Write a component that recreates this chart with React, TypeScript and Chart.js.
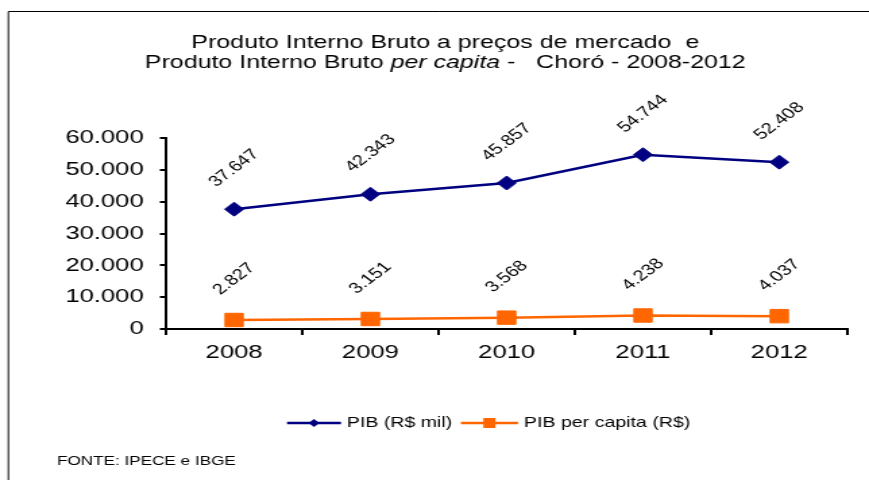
import React, { useEffect, useRef } from 'react';
import { Chart, registerables } from 'chart.js';

Chart.register(...registerables);

// ---- data ----
const years = ['2008', '2009', '2010', '2011', '2012'];
const pib = [37647, 42343, 45857, 54744, 52408];
const pibPerCapita = [2827, 3151, 3568, 4238, 4037];
const seriesNames = ['PIB (R$ mil)', 'PIB per capita (R$)'];
const yMin = 0;
const yMax = 60000;
const yStep = 10000;
const titleLine1 = 'Produto Interno Bruto a preços de mercado  e';
const titleLine2: [string, boolean][] = [
  ['Produto Interno Bruto ', false],
  ['per capita', true],
  [' -   Choró - 2008-2012', false],
];
const sourceText = 'FONTE: IPECE e IBGE';

// ---- layout (logical canvas is stretched horizontally to 869px) ----
const W = 644;
const H = 480;
const FONT = "'Liberation Sans', Arial, sans-serif";
const NAVY = '#000080';
const ORANGE = '#FF6600';

const fmt = (v: number) =>
  String(Math.round(v)).replace(/\B(?=(\d{3})+(?!\d))/g, '.');

const decorPlugin = {
  id: 'decor',
  afterDatasetsDraw(chart: any) {
    const ctx = chart.ctx as CanvasRenderingContext2D;
    ctx.save();
    ctx.fillStyle = '#000';
    ctx.font = `15px ${FONT}`;
    ctx.textAlign = 'center';
    ctx.textBaseline = 'middle';
    chart.data.datasets.forEach((ds: any, i: number) => {
      const meta = chart.getDatasetMeta(i);
      meta.data.forEach((el: any, j: number) => {
        ctx.save();
        ctx.translate(el.x, el.y - 41);
        ctx.rotate(-Math.PI / 4);
        ctx.fillText(fmt(ds.data[j]), 0, 0);
        ctx.restore();
      });
    });
    ctx.restore();
  },
  afterDraw(chart: any) {
    const ctx = chart.ctx as CanvasRenderingContext2D;
    ctx.save();
    // frame (top + left)
    ctx.strokeStyle = '#000';
    ctx.lineWidth = 1;
    ctx.beginPath();
    ctx.moveTo(6.2, H);
    ctx.lineTo(6.2, 11.5);
    ctx.lineTo(W, 11.5);
    ctx.stroke();

    // title
    const tSize = 18.5;
    ctx.fillStyle = '#000';
    ctx.textBaseline = 'alphabetic';
    ctx.textAlign = 'center';
    ctx.font = `${tSize}px ${FONT}`;
    const cx = 330;
    ctx.fillText(titleLine1, cx, 48);
    ctx.textAlign = 'left';
    const widths = titleLine2.map(([t, it]) => {
      ctx.font = `${it ? 'italic ' : ''}${tSize}px ${FONT}`;
      return ctx.measureText(t).width;
    });
    let x = cx - widths.reduce((a, b) => a + b, 0) / 2;
    titleLine2.forEach(([t, it], i) => {
      ctx.font = `${it ? 'italic ' : ''}${tSize}px ${FONT}`;
      ctx.fillText(t, x, 67.5);
      x += widths[i];
    });

    // legend
    const ly = 423;
    ctx.lineWidth = 2.5;
    ctx.strokeStyle = NAVY;
    ctx.fillStyle = NAVY;
    ctx.beginPath();
    ctx.moveTo(212.7, ly);
    ctx.lineTo(252.7, ly);
    ctx.stroke();
    ctx.beginPath();
    ctx.moveTo(232.7, ly - 4);
    ctx.lineTo(236.7, ly);
    ctx.lineTo(232.7, ly + 4);
    ctx.lineTo(228.7, ly);
    ctx.closePath();
    ctx.fill();

    ctx.strokeStyle = ORANGE;
    ctx.fillStyle = ORANGE;
    ctx.beginPath();
    ctx.moveTo(341.6, ly);
    ctx.lineTo(383.9, ly);
    ctx.stroke();
    ctx.fillRect(362.7 - 4.5, ly - 5, 9, 10);

    ctx.fillStyle = '#000';
    ctx.font = `14.5px ${FONT}`;
    ctx.textBaseline = 'middle';
    ctx.fillText(seriesNames[0], 257, ly);
    ctx.fillText(seriesNames[1], 388.3, ly);

    // source
    ctx.font = `12.7px ${FONT}`;
    ctx.textBaseline = 'alphabetic';
    ctx.fillText(sourceText, 42.2, 465);
    ctx.restore();
  },
};

export default function App() {
  const ref = useRef<HTMLCanvasElement | null>(null);

  useEffect(() => {
    if (!ref.current) return;
    const axisFont = { family: FONT, size: 19 };
    const chart = new Chart(ref.current, {
      type: 'line',
      data: {
        labels: years,
        datasets: [
          {
            label: seriesNames[0],
            data: pib,
            borderColor: NAVY,
            backgroundColor: NAVY,
            borderWidth: 2.5,
            pointStyle: 'rectRot',
            pointRadius: 7,
            pointBorderWidth: 1,
            pointBorderColor: NAVY,
            pointBackgroundColor: NAVY,
            tension: 0,
          },
          {
            label: seriesNames[1],
            data: pibPerCapita,
            borderColor: ORANGE,
            backgroundColor: ORANGE,
            borderWidth: 2.5,
            pointStyle: 'rect',
            pointRadius: 9.5,
            pointBorderWidth: 1,
            pointBorderColor: ORANGE,
            pointBackgroundColor: ORANGE,
            tension: 0,
          },
        ],
      },
      options: {
        responsive: false,
        maintainAspectRatio: false,
        animation: false,
        devicePixelRatio: 1,
        layout: { padding: { left: 0, right: 16, top: 138, bottom: 111 } },
        plugins: {
          legend: { display: false },
          title: { display: false },
          tooltip: { enabled: false },
        },
        scales: {
          x: {
            offset: true,
            grid: {
              offset: true,
              drawOnChartArea: false,
              drawTicks: true,
              tickLength: 6,
              color: '#000',
              lineWidth: 2,
            },
            border: { color: '#000', width: 2 },
            ticks: { color: '#000', font: axisFont, padding: 6, maxRotation: 0 },
            afterFit: (s: any) => {
              s.height = 40;
            },
          },
          y: {
            min: yMin,
            max: yMax,
            grid: {
              drawOnChartArea: false,
              drawTicks: true,
              tickLength: 4.5,
              color: '#000',
              lineWidth: 2,
            },
            border: { color: '#000', width: 2 },
            ticks: {
              stepSize: yStep,
              color: '#000',
              font: axisFont,
              padding: 12,
              callback: (v: any) => fmt(Number(v)),
            },
            afterFit: (s: any) => {
              s.width = 123;
            },
          },
        },
      },
      plugins: [decorPlugin],
    } as any);
    return () => chart.destroy();
  }, []);

  return (
    <div style={{ position: 'fixed', left: 0, top: 0, width: 869, height: 480, background: '#fff' }}>
      <canvas
        ref={ref}
        width={W}
        height={H}
        style={{ width: '869px', height: '480px', display: 'block' }}
      />
    </div>
  );
}
